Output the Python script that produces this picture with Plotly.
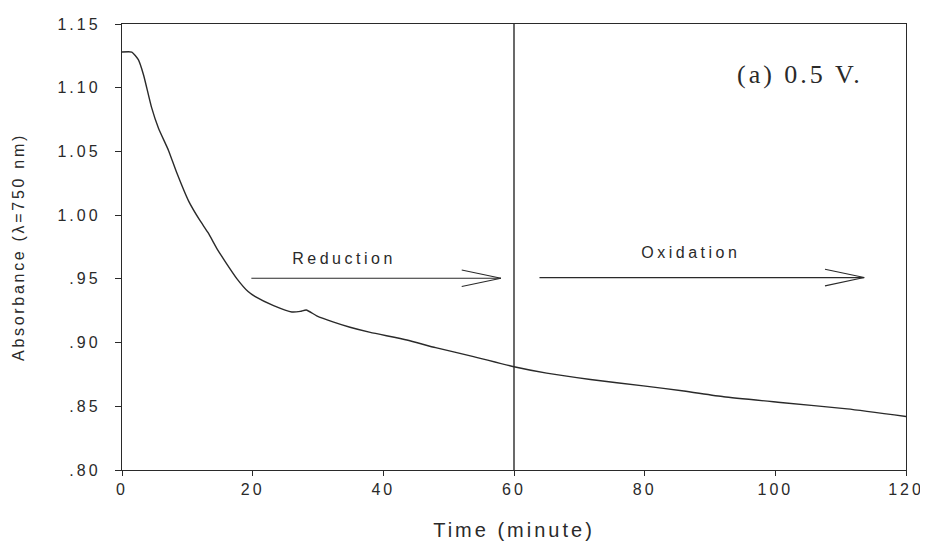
import plotly.graph_objects as go

# Absorbance trace (time in minutes, absorbance at 750 nm)
time_min = [0, 1.5, 2.5, 3.3, 4.5, 5.6, 7.1, 8.4, 10.2, 11.9, 13.2, 14.5, 16.0, 17.6,
            19.3, 20.4, 23.2, 26.0, 27.3, 28.2, 29.8, 32.4, 34.9, 38.0, 43.6, 48.0,
            53.8, 60.0, 65.0, 71.7, 79.8, 86.0, 92.1, 100.8, 111.0, 120.0]
absorbance = [1.128, 1.128, 1.122, 1.110, 1.085, 1.068, 1.051, 1.033, 1.011, 0.996,
              0.986, 0.974, 0.962, 0.950, 0.940, 0.936, 0.929, 0.924, 0.9245, 0.9256,
              0.921, 0.916, 0.912, 0.908, 0.902, 0.896, 0.889, 0.881, 0.876, 0.871,
              0.866, 0.862, 0.8575, 0.853, 0.848, 0.842]

x_ticks = [0, 20, 40, 60, 80, 100, 120]
y_ticks = [0.80, 0.85, 0.90, 0.95, 1.00, 1.05, 1.10, 1.15]
y_ticktext = [".80", ".85", ".90", ".95", "1.00", "1.05", "1.10", "1.15"]

switch_time = 60
arrow_labels = ["Reduction", "Oxidation"]
arrow_start = [19.8, 63.9]
arrow_end = [58.0, 113.6]
arrow_y = [0.9505, 0.951]
label_x = [34.0, 87.1]
label_y = [0.966, 0.9706]
panel_label = "(a) 0.5 V."

INK = "#2a2a2a"
SANS = "Liberation Sans, Arial, sans-serif"

fig = go.Figure()
fig.add_trace(go.Scatter(x=time_min, y=absorbance, mode="lines",
                         line=dict(color=INK, width=1.4, shape="spline", smoothing=0.5),
                         showlegend=False, hoverinfo="skip"))

fig.add_shape(type="line", x0=switch_time, x1=switch_time, y0=0.80, y1=1.15,
              xref="x", yref="y", line=dict(color=INK, width=1.4))

barb_dx = 6.0
barb_dy = 0.0065
for lab, xs, xe, yy, lx, ly in zip(arrow_labels, arrow_start, arrow_end, arrow_y, label_x, label_y):
    fig.add_shape(type="line", x0=xs, x1=xe, y0=yy, y1=yy, xref="x", yref="y",
                  line=dict(color=INK, width=1.1))
    fig.add_shape(type="line", x0=xe - barb_dx, x1=xe, y0=yy + barb_dy, y1=yy, xref="x", yref="y",
                  line=dict(color=INK, width=1.1))
    fig.add_shape(type="line", x0=xe - barb_dx, x1=xe, y0=yy - barb_dy, y1=yy, xref="x", yref="y",
                  line=dict(color=INK, width=1.1))
    fig.add_annotation(x=lx, y=ly, text=lab, showarrow=False, xref="x", yref="y",
                       font=dict(family=SANS, size=16, color=INK))

fig.add_annotation(x=103.7, y=1.110, text=panel_label, showarrow=False, xref="x", yref="y",
                   font=dict(family="Liberation Serif, Times New Roman, serif", size=26, color=INK))

# page body has an 8px default margin, so the figure is 8px smaller than the window
fig.update_layout(
    width=920, height=537,
    margin=dict(l=114, r=22, t=16, b=75),
    paper_bgcolor="white", plot_bgcolor="white",
    font=dict(family=SANS, color=INK),
)
fig.update_xaxes(range=[0, 120], tickvals=x_ticks, ticks="outside", ticklen=5, tickwidth=1.3,
                 tickcolor=INK, showline=True, linecolor=INK, linewidth=1.4, mirror=True,
                 showgrid=False, zeroline=False, automargin=False,
                 tickfont=dict(size=16, color=INK),
                 title=dict(text="Time (minute)", font=dict(size=20, color=INK), standoff=25))
fig.update_yaxes(range=[0.80, 1.15], tickvals=y_ticks, ticktext=y_ticktext, ticks="outside",
                 ticklen=6, tickwidth=1.3, tickcolor=INK, showline=True, linecolor=INK,
                 linewidth=1.4, mirror=True, showgrid=False, zeroline=False, automargin=False,
                 tickfont=dict(size=16, color=INK), ticklabelstandoff=11,
                 title=dict(text="Absorbance (λ=750 nm)",
                            font=dict(size=16, color=INK), standoff=40))

post_script = """
var gd = document.getElementById('{plot_id}');
function ls(sel, v) { gd.querySelectorAll(sel).forEach(function (t) { t.style.letterSpacing = v; }); }
ls('.xtick text', '3px');
ls('.ytick text', '3px');
ls('.g-xtitle text', '3px');
ls('.g-ytitle text', '2.7px');
gd.querySelectorAll('.annotation-text').forEach(function (t) {
  t.style.letterSpacing = (t.textContent.indexOf('V.') >= 0) ? '3px' : '3.5px';
});
"""

fig.write_html("out.html", post_script=post_script)
